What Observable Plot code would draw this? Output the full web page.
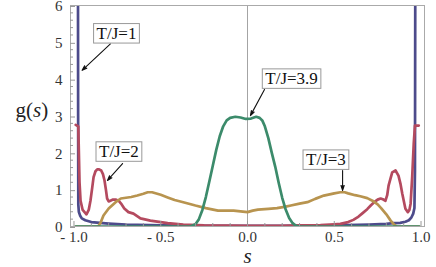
<!DOCTYPE html>
<html><head><meta charset="utf-8">
<script src="https://cdn.jsdelivr.net/npm/d3@7"></script>
<script src="https://cdn.jsdelivr.net/npm/@observablehq/plot@0.6"></script>
<style>body{margin:0;background:#fff}</style>
</head><body><div id="chart"></div>
<script>
// ---- data ----
const seriesNames = ["T/J=1", "T/J=2", "T/J=3", "T/J=3.9"];

const sT1 = [-0.977, -0.976, -0.975, -0.972, -0.965, -0.955, -0.935, -0.9, -0.85, -0.8, -0.7, -0.5, -0.2, 0.2, 0.5, 0.7, 0.8, 0.84, 0.88, 0.91, 0.93, 0.945, 0.955, 0.962, 0.965, 0.966, 0.967];
const gT1 = [7, 3, 0.6, 0.4, 0.3, 0.22, 0.17, 0.12, 0.1, 0.08, 0.05, 0.03, 0.02, 0.02, 0.03, 0.05, 0.07, 0.09, 0.1, 0.13, 0.17, 0.25, 0.35, 0.5, 1.5, 4, 7];

const sT2 = [-0.99, -0.975, -0.968, -0.962, -0.95, -0.928, -0.915, -0.905, -0.895, -0.887, -0.876, -0.866, -0.855, -0.843, -0.833, -0.824, -0.816, -0.809, -0.8, -0.79, -0.775, -0.76, -0.743, -0.725, -0.71, -0.686, -0.657, -0.617, -0.56, -0.46, -0.37, -0.25, 0, 0.2, 0.3, 0.42, 0.5, 0.535, 0.58, 0.61, 0.64, 0.66, 0.69, 0.71, 0.73, 0.75, 0.767, 0.78, 0.795, 0.805, 0.813, 0.824, 0.834, 0.853, 0.87, 0.882, 0.892, 0.91, 0.924, 0.933, 0.94, 0.949, 0.958, 0.965, 0.987];
const gT2 = [2.76, 2.72, 1.2, 0.7, 0.45, 0.33, 0.45, 0.7, 1.05, 1.34, 1.5, 1.55, 1.55, 1.52, 1.42, 1.25, 1.0, 0.76, 0.68, 0.7, 0.73, 0.73, 0.7, 0.6, 0.49, 0.39, 0.35, 0.22, 0.16, 0.09, 0.05, 0.03, 0.02, 0.02, 0.03, 0.04, 0.06, 0.07, 0.12, 0.18, 0.27, 0.35, 0.47, 0.57, 0.66, 0.73, 0.76, 0.74, 0.7, 0.85, 1.11, 1.3, 1.47, 1.52, 1.38, 1.15, 0.89, 0.48, 0.39, 0.45, 0.62, 1.34, 2.25, 2.74, 2.74];

const sT3 = [-0.99, -0.86, -0.845, -0.83, -0.8, -0.76, -0.73, -0.7, -0.67, -0.635, -0.6, -0.575, -0.55, -0.5, -0.46, -0.42, -0.37, -0.3, -0.24, -0.17, -0.12, -0.08, -0.04, 0, 0.03, 0.06, 0.12, 0.17, 0.22, 0.25, 0.3, 0.345, 0.39, 0.44, 0.5, 0.535, 0.56, 0.58, 0.62, 0.65, 0.69, 0.72, 0.75, 0.77, 0.8, 0.825, 0.845, 0.86, 0.99];
const gT3 = [0, 0, 0.12, 0.3, 0.49, 0.66, 0.76, 0.78, 0.8, 0.84, 0.89, 0.93, 0.93, 0.86, 0.79, 0.72, 0.66, 0.57, 0.5, 0.43, 0.43, 0.43, 0.41, 0.39, 0.43, 0.46, 0.48, 0.5, 0.54, 0.57, 0.62, 0.66, 0.75, 0.84, 0.9, 0.93, 0.93, 0.9, 0.85, 0.82, 0.77, 0.7, 0.6, 0.5, 0.33, 0.16, 0.05, 0, 0];

const sT39 = [-0.99, -0.33, -0.3, -0.28, -0.26, -0.24, -0.22, -0.2, -0.18, -0.16, -0.14, -0.12, -0.1, -0.07, -0.04, -0.01, 0.02, 0.05, 0.07, 0.085, 0.1, 0.12, 0.14, 0.16, 0.18, 0.2, 0.22, 0.24, 0.26, 0.28, 0.3, 0.99];
const gT39 = [0, 0, 0.06, 0.2, 0.45, 0.8, 1.22, 1.65, 2.08, 2.45, 2.72, 2.88, 2.95, 2.98, 2.96, 2.92, 2.93, 2.98, 2.95, 2.88, 2.72, 2.4, 2.0, 1.62, 1.18, 0.78, 0.46, 0.23, 0.09, 0.02, 0, 0];

const xTicks = [-1, -0.5, 0, 0.5, 1];
const yTicks = [0, 1, 2, 3, 4, 5, 6];

// annotations (label position and arrow, in data units)
const annoLabels = ["T/J=1", "T/J=2", "T/J=3.9", "T/J=3"];
const annoS = [-0.755, -0.741, 0.254, 0.452];
const annoG = [5.25, 2.04, 4.02, 1.82];
const arrowS1 = [-0.79, -0.72, 0.098, 0.548];
const arrowG1 = [4.96, 1.71, 3.72, 1.52];
const arrowS2 = [-0.953, -0.807, 0.017, 0.548];
const arrowG2 = [4.24, 1.25, 3.01, 0.98];

const axisLabelY = "g(s)";
const axisLabelX = "s";

// ---- styles ----
const colors = ["#4d4b8b", "#b44a5f", "#b8944f", "#3c8b6b"];
const SERIF = "'Liberation Serif', 'DejaVu Serif', serif";

// ---- build tables ----
const sArr = [sT1, sT2, sT3, sT39];
const gArr = [gT1, gT2, gT3, gT39];
const rows = seriesNames.flatMap((name, k) => sArr[k].map((s, i) => ({series: name, s, g: gArr[k][i]})));
const anno = annoLabels.map((label, i) => ({label, s: annoS[i], g: annoG[i], s1: arrowS1[i], g1: arrowG1[i], s2: arrowS2[i], g2: arrowG2[i]}));

const minorX = d3.range(-10, 11).map(d => d / 10).filter(d => !xTicks.some(t => Math.abs(t - d) < 1e-9));
const minorY = d3.range(0, 31).map(d => d / 5).filter(d => !yTicks.some(t => Math.abs(t - d) < 1e-9));

const fmtX = d => (d < 0 ? "- " : "") + Math.abs(d).toFixed(1);

const chart = Plot.plot({
  width: 436,
  height: 267,
  marginLeft: 70,
  marginRight: 12,
  marginTop: 5,
  marginBottom: 41,
  style: {fontFamily: SERIF, fontSize: "15px", background: "#fff", color: "#333"},
  x: {domain: [-1.02, 1.02], label: null},
  y: {domain: [0, 6], label: null},
  color: {domain: seriesNames, range: colors},
  marks: [
    Plot.ruleX([0], {stroke: "#9a9a9a", strokeWidth: 0.9}),
    Plot.line(rows, {x: "s", y: "g", z: "series", stroke: "series", strokeWidth: 2.7, clip: true, curve: "linear"}),
    Plot.frame({stroke: "#aaa"}),
    // major ticks (inward) + labels
    Plot.axisX({anchor: "bottom", ticks: xTicks, tickSize: -5, tickPadding: 10, tickFormat: fmtX, stroke: "#999", fill: "#333", label: null, fontSize: 15, fontFamily: SERIF}),
    Plot.axisX({anchor: "bottom", ticks: minorX, tickSize: -3, tickFormat: () => "", stroke: "#999", label: null}),
    Plot.axisY({anchor: "left", ticks: yTicks, tickSize: -5, tickPadding: 13, dy: 1, tickFormat: d => String(d), stroke: "#999", fill: "#333", label: null, fontSize: 15, fontFamily: SERIF}),
    Plot.axisY({anchor: "left", ticks: minorY, tickSize: -3, tickFormat: () => "", stroke: "#999", label: null}),
    // axis titles
    Plot.text([axisLabelY], {text: d => d, frameAnchor: "left", dx: -55, dy: -6, fontSize: 21, fontFamily: SERIF, fill: "#222", ariaDescription: "ylabel"}),
    Plot.text([axisLabelX], {text: d => d, frameAnchor: "bottom", dy: 36, fontSize: 21, fontFamily: SERIF, fontStyle: "italic", fill: "#222"}),
    // annotations
    Plot.arrow(anno, {x1: "s1", y1: "g1", x2: "s2", y2: "g2", stroke: "#111", fill: "#111", strokeWidth: 1.1, headLength: 7, headAngle: 36}),
    Plot.text(anno, {x: "s", y: "g", text: "label", fontSize: 17, fontFamily: SERIF, fill: "#111", ariaDescription: "annotation"})
  ]
});
document.getElementById("chart").appendChild(chart);

// boxes behind the annotation labels
chart.querySelectorAll('g[aria-description="annotation"] text').forEach(t => {
  const b = t.getBBox();
  const r = document.createElementNS("http://www.w3.org/2000/svg", "rect");
  r.setAttribute("x", b.x - 3);
  r.setAttribute("y", b.y);
  r.setAttribute("width", b.width + 6);
  r.setAttribute("height", b.height + 0.5);
  r.setAttribute("fill", "#fff");
  r.setAttribute("stroke", "#999");
  r.setAttribute("stroke-width", "1");
  const tr = t.getAttribute("transform");
  if (tr) r.setAttribute("transform", tr);
  t.parentNode.insertBefore(r, t);
});
// italic s inside g(s)
chart.querySelectorAll('g[aria-description="ylabel"] text').forEach(t => {
  t.textContent = "";
  const ns = "http://www.w3.org/2000/svg";
  const a = document.createElementNS(ns, "tspan"); a.textContent = "g(";
  const b = document.createElementNS(ns, "tspan"); b.textContent = "s"; b.setAttribute("font-style", "italic");
  const c = document.createElementNS(ns, "tspan"); c.textContent = ")";
  t.append(a, b, c);
});
</script>
</body></html>
